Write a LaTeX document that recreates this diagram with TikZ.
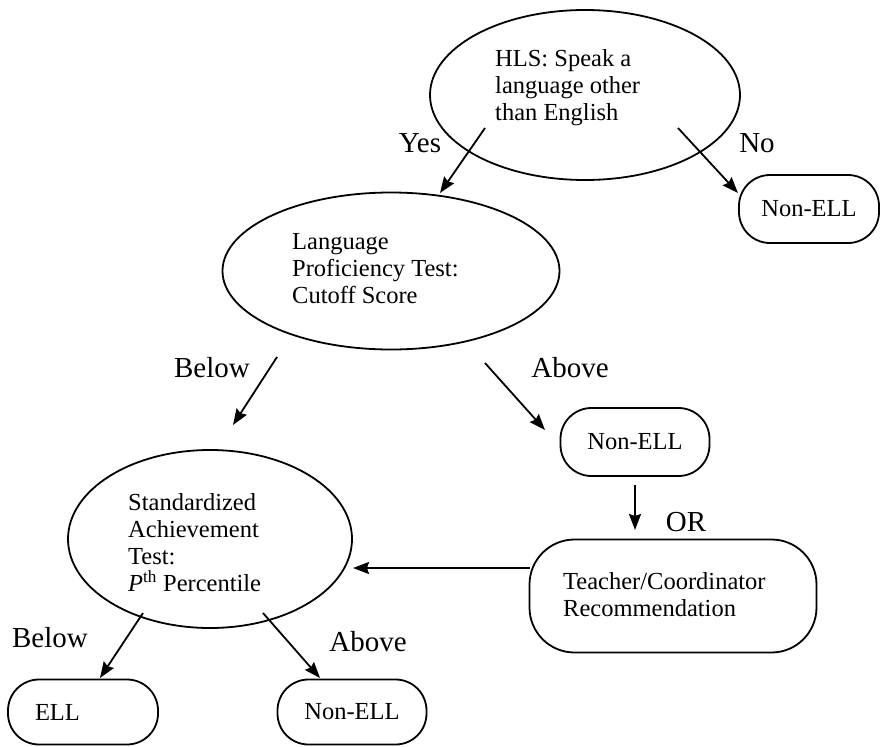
\documentclass[tikz,border=0pt]{standalone}
\usepackage{fontspec}
\setmainfont{Liberation Serif}
\usetikzlibrary{shapes.geometric,arrows.meta}
\tikzset{>={Stealth[length=16pt,width=12pt,inset=2pt]}}
\tikzset{
  oval/.style={draw,ellipse,line width=1.8pt,inner sep=0pt},
  pill/.style={draw,rectangle,rounded corners=31pt,line width=1.8pt,inner sep=0pt,
    font=\fontsize{24.5}{27}\selectfont},
  txt/.style={anchor=west,align=left,inner sep=0pt,font=\fontsize{24.5}{27}\selectfont},
  lbl/.style={inner sep=0pt,font=\fontsize{29}{32}\selectfont},
  arr/.style={->,line width=1.8pt}
}

\begin{document}
\begin{tikzpicture}[x=1pt,y=-1pt]
\useasboundingbox (0,0) rectangle (881,747);
% the three tests
\node[oval,minimum width=310pt,minimum height=170pt] (hls) at (585,95) {};
\node[txt] (hlsText) at (495,88) {HLS: Speak a\\language other\\than English};
\node[oval,minimum width=337pt,minimum height=157pt] (lpt) at (391,271) {};
\node[txt] (lptText) at (292,269) {Language\\Proficiency Test:\\Cutoff Score};
\node[oval,minimum width=284pt,minimum height=178pt] (sat) at (210,539) {};
\node[txt] (satText) at (128,543) {Standardized\\Achievement\\Test:\\\textit{P}\textsuperscript{th} Percentile};
% outcomes
\node[pill,minimum width=140pt,minimum height=68pt] (nonTop) at (809,209) {Non-ELL};
\node[pill,minimum width=149pt,minimum height=68pt] (nonMid) at (635,442) {Non-ELL};
\node[pill,rounded corners=45pt,minimum width=287pt,minimum height=113pt] (teach) at (673,596) {};
\node[txt] (teachText) at (563,595) {Teacher/Coordinator\\Recommendation};
\node[pill,minimum width=150pt,minimum height=65pt,text width=96pt,align=left] (ell) at (83,712) {ELL};
\node[pill,minimum width=149pt,minimum height=65pt] (nonLow) at (352,712) {Non-ELL};
% arrow ends
\coordinate (yesA) at (485,128);
\coordinate (yesB) at (440,193);
\coordinate (noA) at (678,128);
\coordinate (noB) at (738,193);
\coordinate (belowA) at (277,357);
\coordinate (belowB) at (233,425);
\coordinate (aboveA) at (485,363);
\coordinate (aboveB) at (545,430);
\coordinate (orA) at (635,485);
\coordinate (orB) at (635,530);
\coordinate (backA) at (530,568);
\coordinate (backB) at (353,568);
\coordinate (ellA) at (143,613);
\coordinate (ellB) at (100,678);
\coordinate (nonA) at (263,613);
\coordinate (nonB) at (320,678);
\draw[arr] (yesA) -- (yesB);
\draw[arr] (noA) -- (noB);
\draw[arr] (belowA) -- (belowB);
\draw[arr] (aboveA) -- (aboveB);
\draw[arr] (orA) -- (orB);
\draw[arr] (backA) -- (backB);
\draw[arr] (ellA) -- (ellB);
\draw[arr] (nonA) -- (nonB);
% branch labels
\node[lbl] (yes) at (420,143) {Yes};
\node[lbl] (no) at (757,143) {No};
\node[lbl] (below) at (212,368) {Below};
\node[lbl] (above) at (570,368) {Above};
\node[lbl] (or) at (686,522) {OR};
\node[lbl] (belowLow) at (50,638) {Below};
\node[lbl] (aboveLow) at (368,642) {Above};
\end{tikzpicture}
\end{document}
